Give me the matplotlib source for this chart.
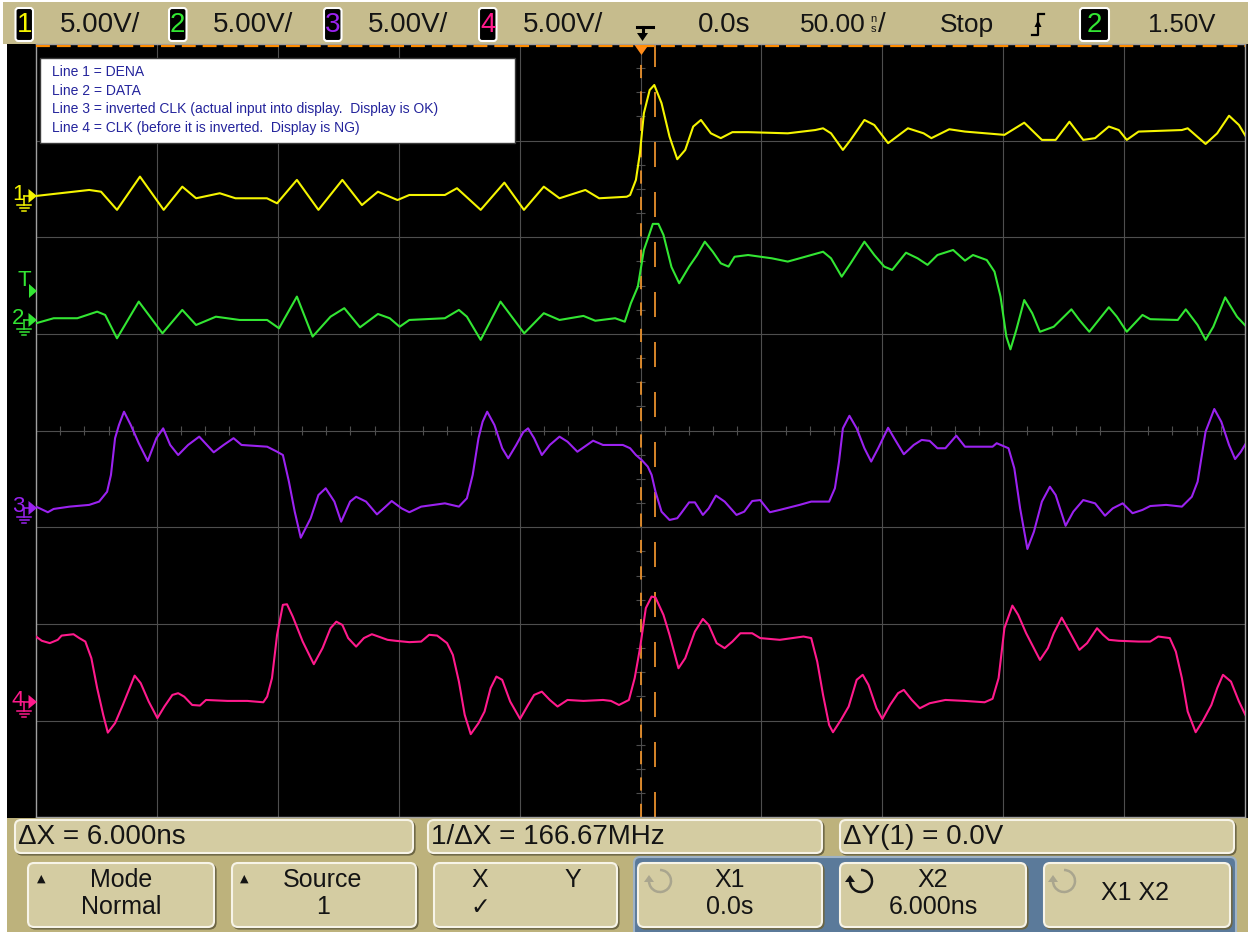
import matplotlib
matplotlib.use("Agg")
import matplotlib.pyplot as plt
from matplotlib.patches import Rectangle, FancyBboxPatch, Polygon, Arc
import numpy as np

plt.rcParams['font.family'] = ['Liberation Sans', 'DejaVu Sans']
plt.rcParams['lines.scale_dashes'] = False

# ---------------- data (time in ns, level in V) ----------------
VOLTS_PER_DIV = 5.0
NS_PER_DIV = 50.0
ch_offsets_div = [2.428, 1.145, -0.80, -2.806]   # ground positions (div from centre)
trigger_level_v = 1.50
cursor_x1_ns = 0.0
cursor_x2_ns = 6.0

ch1_t = [-250.0, -228.0, -223.1, -216.5, -207.0, -197.2, -189.5, -183.8, -174.0, -167.5, -154.5,
         -150.3, -142.1, -133.2, -123.3, -115.2, -108.6, -100.5, -95.6, -80.9, -75.9, -66.1, -56.3,
         -48.2, -40.0, -33.5, -22.8, -17.1, -5.7, -4.3, -1.9, -0.25, 1.4, 3.8, 5.7, 8.7, 12.0, 15.2,
         18.5, 21.8, 25.0, 29.1, 33.2, 38.0, 44.5, 60.9, 72.3, 75.5, 78.8, 83.7, 86.9, 92.6, 96.7,
         102.4, 110.6, 117.1, 120.3, 127.7, 134.2, 150.5, 158.7, 166.0, 171.7, 177.4, 183.1, 188.0,
         193.7, 197.8, 201.1, 206.0, 223.9, 226.3, 233.7, 238.5, 243.4, 247.5, 251.2]
ch1_v = [0.0, 0.31, 0.22, -0.72, 1.0, -0.72, 0.48, -0.12, 0.14, -0.12, -0.12, -0.38, 0.83, -0.72,
         0.83, -0.47, 0.22, -0.21, 0.05, 0.05, 0.40, -0.72, 0.69, -0.72, 0.48, -0.12, 0.31, -0.12,
         -0.04, 0.05, 0.83, 2.21, 4.28, 5.48, 5.74, 4.80, 3.07, 1.90, 2.38, 3.59, 3.93, 3.24, 2.99,
         3.30, 3.30, 3.24, 3.41, 3.50, 3.24, 2.38, 2.90, 3.93, 3.67, 2.73, 3.50, 3.24, 2.99, 3.45,
         3.33, 3.16, 3.79, 2.90, 2.90, 3.84, 2.90, 2.99, 3.59, 3.41, 2.90, 3.33, 3.41, 3.50, 2.69,
         3.24, 4.15, 3.67, 2.90]

ch2_t = [-250.0, -242.7, -232.9, -224.7, -221.4, -216.5, -207.5, -197.7, -189.5, -183.8, -175.6,
         -165.8, -154.4, -149.5, -142.1, -135.6, -128.2, -122.5, -116.0, -108.6, -103.7, -99.6,
         -95.6, -80.9, -75.1, -71.8, -66.1, -57.9, -48.1, -40.0, -33.5, -23.6, -18.7, -10.5, -6.5,
         -4.0, -1.1, 1.4, 3.8, 5.1, 7.4, 9.5, 12.8, 16.0, 20.1, 23.4, 26.6, 29.9, 33.2, 36.4, 38.9,
         44.5, 54.3, 60.9, 65.8, 75.5, 78.8, 83.2, 86.9, 92.6, 96.7, 100.8, 104.1, 109.8, 114.6,
         118.7, 122.8, 129.3, 134.2, 137.5, 143.2, 146.4, 148.9, 151.3, 153.0, 155.4, 158.7, 162.0,
         165.2, 170.9, 178.2, 181.5, 185.6, 193.7, 197.0, 201.1, 207.6, 210.8, 222.2, 225.5, 230.4,
         233.7, 236.9, 241.8, 246.7, 251.2]
ch2_v = [-0.17, 0.09, 0.09, 0.43, 0.26, -0.95, 0.95, -0.69, 0.52, -0.26, 0.17, 0.0, 0.0, -0.43,
         1.21, -0.86, 0.17, 0.61, -0.38, 0.31, 0.09, -0.35, 0.0, 0.09, 0.52, 0.17, -1.03, 0.95,
         -0.69, 0.35, 0.0, 0.21, -0.04, 0.09, -0.09, 0.86, 1.72, 3.62, 4.49, 4.97, 4.97, 4.40, 2.74,
         1.90, 2.76, 3.36, 4.05, 3.53, 2.93, 2.76, 3.27, 3.36, 3.19, 3.02, 3.19, 3.53, 3.19, 2.24,
         2.93, 4.05, 3.36, 2.76, 2.59, 3.48, 3.19, 2.85, 3.36, 3.62, 3.07, 3.36, 3.10, 2.50, 1.21,
         -0.86, -1.52, -0.52, 1.03, 0.35, -0.61, -0.35, 0.55, 0.0, -0.61, 0.66, 0.17, -0.61, 0.26,
         0.04, 0.0, 0.55, -0.26, -1.03, -0.35, 1.17, 0.17, -0.43]

ch3_t = [-250.0, -245.1, -242.7, -236.1, -228.0, -223.9, -220.6, -219.0, -217.3, -215.7, -213.6,
         -210.8, -207.5, -203.8, -200.2, -197.4, -194.5, -191.2, -187.1, -182.5, -176.5, -172.4,
         -168.3, -165.0, -154.4, -150.3, -147.9, -145.4, -143.0, -140.5, -136.4, -133.2, -130.2,
         -126.6, -123.8, -120.1, -117.6, -113.5, -109.0, -106.2, -102.9, -98.8, -95.6, -90.7, -80.9,
         -75.1, -71.8, -69.4, -67.0, -65.3, -63.4, -60.4, -57.2, -54.7, -51.4, -48.5, -46.5, -44.0,
         -40.8, -37.5, -33.5, -30.2, -26.1, -19.6, -15.5, -7.3,
         -4.3, -1.9, 0.5, 3.0, 4.6, 6.2, 8.7, 12.0, 15.2, 16.8, 20.1, 22.5, 25.8, 28.2, 31.2, 34.8,
         39.7, 42.9, 46.2, 49.5, 53.5, 57.6, 65.8, 70.6, 78.0, 80.4, 82.1, 83.7, 86.4, 89.4, 92.6,
         95.4, 98.3, 102.4, 104.9, 108.9, 113.0, 116.3, 119.6, 122.8, 126.1, 130.6, 134.2, 139.1,
         145.6, 147.3, 152.2, 154.6, 157.0, 160.0, 162.7, 166.0, 169.3, 171.7, 175.8, 179.0, 183.1,
         188.0, 192.1, 195.3, 199.4, 203.5, 207.6, 210.8, 217.4, 223.9, 228.0, 230.4, 233.7, 237.3,
         240.2, 243.4, 245.9, 248.3, 250.8]
ch3_v = [0.07, -0.22, -0.05, 0.07, 0.16, 0.33, 0.84, 1.71, 3.61, 4.29, 4.98, 4.29, 3.35, 2.43,
         3.61, 4.12, 3.26, 2.74, 3.26, 3.69, 2.88, 3.26, 3.61, 3.26, 3.17, 2.91, 2.74, 1.36, -0.19,
         -1.54, -0.53, 0.67, 1.02, 0.33, -0.71, 0.33, 0.58, 0.33, -0.33, -0.02, 0.36, -0.02, -0.22,
         0.07, 0.24, 0.07, 0.50, 1.71, 3.61, 4.46, 4.98, 4.29, 3.09, 2.57, 3.26, 3.92, 4.12, 3.61,
         2.74, 3.26, 3.69, 3.43, 2.91, 3.48, 3.26, 3.26,
         3.09, 2.74, 2.48, 2.14, 1.71, 0.84, -0.19, -0.62, -0.53, -0.27, 0.29, 0.29, -0.36, -0.02,
         0.64, 0.33, -0.36, -0.19, 0.36, 0.41, -0.22, -0.10, 0.16, 0.33, 0.33, 1.02, 2.40, 4.12,
         4.77, 4.12, 3.09, 2.40, 3.09, 4.15, 3.61, 2.78, 3.26, 3.52, 3.47, 3.09, 3.09, 3.74, 3.17,
         3.17, 3.17, 3.35, 3.09, 2.05, -0.02, -2.12, -1.23, 0.33, 1.10, 0.67, -0.92, -0.19, 0.41,
         0.24, -0.40, -0.02, 0.24, -0.27, -0.10, 0.10, 0.16, 0.07, 0.58, 1.36, 3.95, 5.12, 4.46,
         3.26, 2.53, 2.91, 3.43]

ch4_t = [-250.0, -247.6, -244.3, -241.0, -239.4, -234.5, -232.1, -229.6, -227.1, -224.7, -222.2,
         -220.3, -217.3, -214.1, -211.6, -209.2, -206.7, -203.4, -199.8, -196.9, -193.6, -191.2,
         -188.7, -185.4, -182.2, -179.7, -170.8, -162.6, -156.0, -154.4, -152.4, -150.3, -147.9,
         -146.2, -143.8, -139.7, -135.1, -131.5, -128.2, -125.8, -123.3, -120.9, -117.6, -114.4,
         -111.1, -104.6, -101.3, -95.6, -90.7, -87.4, -84.1, -80.0, -77.6, -75.1, -72.7, -70.2,
         -67.0, -64.5, -62.0, -59.6, -57.2, -53.9, -49.8, -46.5, -44.0, -40.8, -37.5, -34.3, -30.2,
         -23.6, -15.5, -12.2, -8.9, -4.8, -2.4,
         -0.2, 2.2, 4.6, 6.2, 9.5, 12.0, 15.7, 18.5, 22.5, 25.8, 28.2, 31.5, 34.8, 38.0, 41.3,
         46.2, 49.5, 57.6, 67.4, 70.6, 73.1, 75.5, 78.0, 79.6, 82.9, 86.1, 89.4, 91.9, 94.3, 97.6,
         100.0, 103.2, 106.5, 108.9, 112.2, 115.5, 119.6, 126.1, 134.2, 142.3, 145.6, 148.1, 150.5,
         153.8, 156.2, 159.5, 162.0, 165.2, 168.5, 170.9, 174.2, 177.4, 181.5, 184.7, 188.8, 191.3,
         193.7, 197.8, 206.0, 210.8, 214.1, 218.9, 221.4, 223.9, 226.3, 229.6, 232.8, 236.1, 238.5,
         240.9, 244.2, 247.5, 250.8]
ch4_v = [3.38, 3.16, 3.04, 3.21, 3.43, 3.50, 3.30, 3.12, 2.26, 0.71, -0.67, -1.59, -1.10, -0.16,
         0.62, 1.36, 0.97, 0.02, -0.84, -0.24, 0.36, 0.45, 0.27, -0.16, -0.19, 0.10, 0.05, 0.05,
         -0.02, 0.27, 1.23, 3.47, 5.02, 5.05, 4.41, 3.12, 1.95, 2.78, 3.81, 4.15, 3.98, 3.30, 2.86,
         3.30, 3.50, 3.21, 3.16, 3.09, 3.12, 3.47, 3.43, 3.04, 2.43, 1.05, -0.67, -1.67, -1.10,
         -0.50, 0.71, 1.31, 1.14, 0.02, -0.88, -0.16, 0.36, 0.53, 0.10, -0.24, 0.10, 0.05, 0.10,
         0.05, -0.16, 0.10, 1.23,
         2.78, 4.85, 5.45, 5.40, 4.50, 3.47, 1.74, 2.26, 3.64, 4.29, 3.98, 3.04, 2.78, 3.12, 3.55,
         3.55, 3.30, 3.21, 3.38, 3.30, 2.08, 0.36, -1.19, -1.57, -0.93, -0.24, 1.14, 1.40, 0.88,
         -0.33, -0.88, -0.16, 0.45, 0.62, 0.10, -0.33, -0.07, 0.10, 0.05, -0.02, 0.16, 1.23, 3.81,
         4.98, 4.50, 3.55, 2.95, 2.17, 2.78, 3.55, 4.36, 3.64, 2.69, 3.04, 3.81, 3.47, 3.21, 3.16,
         3.12, 3.12, 3.38, 3.30, 2.60, 1.23, -0.50, -1.57, -0.93, -0.16, 0.71, 1.40, 1.05, 0.02,
         -0.84]

ch_colors = ['#f5f500', '#33e633', '#9b22f0', '#ff1a8c']
ch_labels = ['1', '2', '3', '4']
legend_lines = ["Line 1 = DENA",
                "Line 2 = DATA",
                "Line 3 = inverted CLK (actual input into display.  Display is OK)",
                "Line 4 = CLK (before it is inverted.  Display is NG)"]
scale_text = "5.00V/"
delay_text = "0.0s"
timebase_text = "50.00"
run_text = "Stop"
trig_level_text = "1.50V"
meas_texts = ["\u0394X = 6.000ns", "1/\u0394X = 166.67MHz", "\u0394Y(1) = 0.0V"]

# ---------------- figure ----------------
W, H = 1248, 932
fig = plt.figure(figsize=(W / 100, H / 100), dpi=100, facecolor='white')

GX0, GX1 = 36.0, 1245.0
GY0, GY1 = 44.0, 817.3
YC = (GY0 + GY1) / 2
DIVY = (GY1 - GY0) / 8

def py(div):
    return YC - div * DIVY

KHAKI = '#c6bc8d'
PANEL = '#bdb27c'
BOXFC = '#d4cca2'
ORANGE = '#e8902c'
INK = '#141414'

bg = fig.add_axes([0, 0, 1, 1], zorder=0)
bg.set_xlim(0, W); bg.set_ylim(H, 0); bg.axis('off')
bg.add_patch(Rectangle((3, 2), W - 3, GY0 - 2, color=KHAKI, lw=0))
bg.add_patch(Rectangle((7, GY0), W - 7, 818 - GY0, color='black', lw=0))
bg.add_patch(Rectangle((7, 818), W - 7, H - 818, color=PANEL, lw=0))

# ---------------- scope graticule ----------------
ax = fig.add_axes([GX0 / W, (H - GY1) / H, (GX1 - GX0) / W, (GY1 - GY0) / H], zorder=1)
ax.set_facecolor('black')
ax.set_xlim(-5 * NS_PER_DIV, 5 * NS_PER_DIV)
ax.set_ylim(-4, 4)
ax.set_xticks([]); ax.set_yticks([])
for s in ax.spines.values():
    s.set_color('#a0a0a0'); s.set_linewidth(1.0)
GRID = '#4e4e4e'
for k in range(-4, 5):
    ax.axvline(k * NS_PER_DIV, color=GRID, lw=0.8, zorder=1)
for k in range(-3, 4):
    ax.axhline(k, color=GRID, lw=0.8, zorder=1)
ax.vlines(np.arange(-250, 251, 10), -0.045, 0.045, color=GRID, lw=0.8, zorder=1)
ax.hlines(np.arange(-4, 4.01, 0.25), -1.8, 1.8, color=GRID, lw=0.8, zorder=1)

# cursors
ax.axvline(cursor_x1_ns, color=ORANGE, lw=1.3, dashes=(9.5, 9.5), zorder=2)
ax.axvline(cursor_x2_ns, color=ORANGE, lw=1.3, dashes=(18, 18), zorder=2)

traces = [(ch1_t, ch1_v), (ch2_t, ch2_v), (ch3_t, ch3_v), (ch4_t, ch4_v)]
for (t, v), off, col in zip(traces, ch_offsets_div, ch_colors):
    ax.plot(t, off + np.array(v) / VOLTS_PER_DIV, color=col, lw=1.5, zorder=3)

# ---------------- overlay (pixel space) ----------------
ov = fig.add_axes([0, 0, 1, 1], zorder=3)
ov.set_xlim(0, W); ov.set_ylim(H, 0); ov.axis('off')
ov.patch.set_alpha(0)

# orange dashed top border + trigger position marker
ov.plot([GX0, GX1], [45.5, 45.5], color='#ff8c00', lw=1.6, dashes=(10, 5))
ov.add_patch(Polygon([(634.5, 45), (648.5, 45), (641.5, 55)], closed=True, color='#ff8c1a', lw=0))

# legend box
ov.add_patch(Rectangle((40, 58), 475, 85, fc='white', ec='#3a3a3a', lw=1.0, zorder=5))
for i, line in enumerate(legend_lines):
    ov.text(52, 72.5 + i * 18.5, line, color='#24249c', fontsize=10, va='center', ha='left', zorder=6)

# left channel markers
for lab, off, col in zip(ch_labels, ch_offsets_div, ch_colors):
    y = py(off)
    ov.text(18, y - 1, lab, color=col, fontsize=16, ha='center', va='center')
    ov.add_patch(Polygon([(28.5, y - 7), (28.5, y + 7), (37, y)], closed=True, color=col, lw=0))
    ov.plot([24, 29], [y, y], color=col, lw=1.1)
    ov.plot([24, 24], [y, y + 9], color=col, lw=1.1)
    ov.plot([17, 31], [y + 9, y + 9], color=col, lw=1.1)
    ov.plot([19.5, 28.5], [y + 12, y + 12], color=col, lw=1.1)
    ov.plot([22, 26], [y + 15, y + 15], color=col, lw=1.1)
yt = py(ch_offsets_div[1] + trigger_level_v / VOLTS_PER_DIV)
ov.text(24, yt - 10, 'T', color=ch_colors[1], fontsize=16, ha='center', va='center')
ov.add_patch(Polygon([(29, yt - 7), (29, yt + 7), (37, yt)], closed=True, color=ch_colors[1], lw=0))

# ---------------- header ----------------
HF = 20
def chbox(x0, x1, lab, col):
    ov.add_patch(FancyBboxPatch((x0, 8), x1 - x0, 33, boxstyle='round,pad=0,rounding_size=3',
                                fc='black', ec='white', lw=1.5))
    ov.text((x0 + x1) / 2, 25, lab, color=col, fontsize=HF, ha='center', va='center')

for x0, lab, col in zip([15.5, 169, 324, 479], ch_labels, ch_colors):
    chbox(x0, x0 + 17.5, lab, col)
    ov.text(x0 + 44, 25, scale_text, color=INK, fontsize=HF, ha='left', va='center')

# trigger position icon
ov.plot([637, 653], [27, 27], color='black', lw=2.2)
ov.plot([642.5, 642.5], [27, 34], color='black', lw=2.2)
ov.add_patch(Polygon([(637, 33), (648, 33), (642.5, 41)], closed=True, color='black', lw=0))
ov.text(698, 25, delay_text, color=INK, fontsize=HF, ha='left', va='center')
ov.text(800, 25, timebase_text, color=INK, fontsize=19, ha='left', va='center')
ov.text(873, 18.5, 'n', color=INK, fontsize=8, ha='center', va='center')
ov.text(873, 29.5, 's', color=INK, fontsize=8, ha='center', va='center')
ov.text(878, 25, '/', color=INK, fontsize=HF, ha='left', va='center')
ov.text(940, 25, run_text, color=INK, fontsize=19, ha='left', va='center')
# rising edge symbol
ov.plot([1032, 1038, 1038, 1044], [35, 35, 14, 14], color='black', lw=1.6)
ov.add_patch(Polygon([(1034.5, 27), (1041.5, 27), (1038, 20)], closed=True, color='black', lw=0))
ov.add_patch(FancyBboxPatch((1080, 8), 29, 33, boxstyle='round,pad=0,rounding_size=3',
                            fc='black', ec='white', lw=1.5))
ov.text(1094.5, 25, '2', color=ch_colors[1], fontsize=HF, ha='center', va='center')
ov.text(1148, 25, trig_level_text, color=INK, fontsize=18.5, ha='left', va='center')

# ---------------- bottom panel ----------------
def softbox(x0, y0, x1, y1, fc=BOXFC, r=6):
    ov.add_patch(FancyBboxPatch((x0 + 1.5, y0 + 1.5), x1 - x0, y1 - y0,
                                boxstyle='round,pad=0,rounding_size=%g' % r,
                                fc='none', ec='#6c6543', lw=1.6))
    ov.add_patch(FancyBboxPatch((x0, y0), x1 - x0, y1 - y0,
                                boxstyle='round,pad=0,rounding_size=%g' % r,
                                fc=fc, ec='#f7f4e8', lw=1.5))

for (x0, x1), txt in zip([(15, 413), (428, 822), (840, 1234)], meas_texts):
    softbox(x0, 820, x1, 853)
    ov.text(x0 + 3, 837, txt, color=INK, fontsize=20, ha='left', va='center')

# blue group
ov.add_patch(FancyBboxPatch((634, 857), 602, 80, boxstyle='round,pad=0,rounding_size=6',
                            fc='#5b7a9a', ec='#9fb3c6', lw=1.5))

SK = 18
keys = [(28, 214), (232, 416), (434, 617), (638, 822), (840, 1026), (1044, 1230)]
for x0, x1 in keys:
    softbox(x0, 863, x1, 927)

def key_text(x, y, s, size=SK, color=INK):
    ov.text(x, y, s, color=color, fontsize=size, ha='center', va='center')

key_text(121, 880, 'Mode'); key_text(121, 907, 'Normal')
key_text(323, 880, 'Source'); key_text(323, 907, '1')
key_text(480, 880, 'X'); key_text(573, 880, 'Y')
key_text(480, 908, '\u2713', size=17)
key_text(730, 880, 'X1'); key_text(730, 907, '0.0s')
key_text(933, 880, 'X2'); key_text(933, 907, '6.000ns')
key_text(1135, 893, 'X1 X2')
for x in (41, 244):
    ov.text(x, 879, '\u25B2', color=INK, fontsize=8, ha='center', va='center',
            family='DejaVu Sans')

def knob_icon(cx, cy, col, r=11):
    ov.add_patch(Arc((cx, cy), 2 * r, 2 * r, theta1=270, theta2=540, color=col, lw=1.8))
    ov.add_patch(Polygon([(cx - r - 5, cy + 1), (cx - r + 5, cy + 1), (cx - r, cy - 6)],
                         closed=True, color=col, lw=0))

knob_icon(660, 881, '#a9a58e')
knob_icon(861, 881, INK)
knob_icon(1064, 881, '#a9a58e')

fig.savefig('out.png', dpi=100, facecolor='white')
